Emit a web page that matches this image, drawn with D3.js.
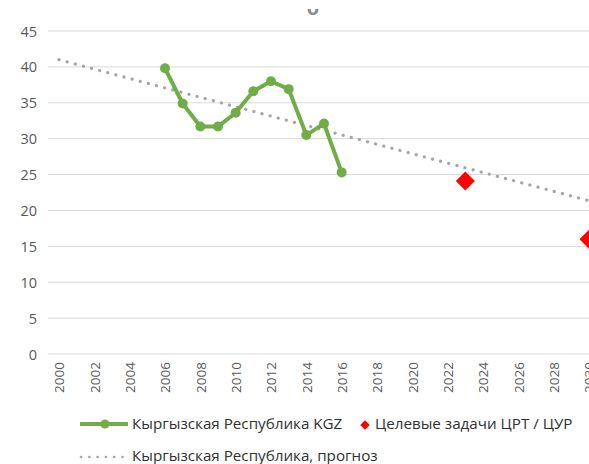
<!DOCTYPE html>
<html><head><meta charset="utf-8">
<script src="https://cdn.jsdelivr.net/npm/d3@7"></script>
<style>body{margin:0;background:#fff;overflow:hidden}svg{display:block}</style>
</head><body>
<svg id="c" width="589" height="464"></svg>
<script>
const years = [2006,2007,2008,2009,2010,2011,2012,2013,2014,2015,2016];
const kgzValues = [39.8,34.9,31.7,31.7,33.6,36.6,38.0,36.9,30.5,32.1,25.3];
const targetYears = [2023,2030];
const targetValues = [24.1,16.0];
const forecastYears = [2000,2031];
const forecastValues = [41.0,20.7];
const xTicks = [2000,2002,2004,2006,2008,2010,2012,2014,2016,2018,2020,2022,2024,2026,2028,2030];
const yTicks = [0,5,10,15,20,25,30,35,40,45];
const legendLabels = ["Кыргызская Республика KGZ","Целевые задачи ЦРТ / ЦУР","Кыргызская Республика, прогноз"];

const svg = d3.select("#c");
const font = "'Open Sans', sans-serif";
const x = d3.scaleLinear().domain([2000,2030]).range([59,589]);
const y = d3.scaleLinear().domain([0,45]).range([354,31]);
const plotLeft = 48, plotRight = 620;

svg.append("defs").append("clipPath").attr("id","tclip")
  .append("rect").attr("x",290).attr("y",9).attr("width",50).attr("height",10);

// gridlines
svg.append("g").selectAll("line").data(yTicks).join("line")
  .attr("x1",plotLeft).attr("x2",plotRight)
  .attr("y1",d=>y(d)).attr("y2",d=>y(d))
  .attr("stroke","#d9d9d9").attr("stroke-width",1);

// y axis labels
const yAxis = d3.axisLeft(y).tickValues(yTicks).tickSize(0).tickPadding(0);
const gy = svg.append("g").attr("transform","translate(37,0)").call(yAxis);
gy.select(".domain").remove();
gy.selectAll("text").attr("font-family",font).attr("font-size",14.5).attr("fill","#595959").attr("dy","0.35em");

// x axis labels
const xAxis = d3.axisBottom(x).tickValues(xTicks).tickSize(0).tickFormat(d3.format("d"));
const gx = svg.append("g").attr("transform","translate(0,362)").call(xAxis);
gx.select(".domain").remove();
gx.selectAll("text").attr("font-family",font).attr("font-size",13.5).attr("fill","#595959")
  .attr("transform","rotate(-90)").attr("text-anchor","end").attr("x",0).attr("y",0).attr("dy","0.35em");

// forecast dotted line
const fData = forecastYears.map((d,i)=>[d,forecastValues[i]]);
svg.append("path").datum(fData)
  .attr("d",d3.line().x(d=>x(d[0])).y(d=>y(d[1])))
  .attr("fill","none").attr("stroke","#a5a5a5").attr("stroke-width",3.2)
  .attr("stroke-linecap","round").attr("stroke-dasharray","0.1 8.3");

// green series
const gData = years.map((d,i)=>[d,kgzValues[i]]);
svg.append("path").datum(gData)
  .attr("d",d3.line().x(d=>x(d[0])).y(d=>y(d[1])))
  .attr("fill","none").attr("stroke","#70ad47").attr("stroke-width",4).attr("stroke-linejoin","round");
svg.append("g").selectAll("circle").data(gData).join("circle")
  .attr("cx",d=>x(d[0])).attr("cy",d=>y(d[1])).attr("r",5).attr("fill","#70ad47");

// targets
const tData = targetYears.map((d,i)=>[d,targetValues[i]]);
svg.append("g").selectAll("path").data(tData).join("path")
  .attr("d",d3.symbol().type(d3.symbolSquare).size(180))
  .attr("transform",d=>`translate(${x(d[0])},${y(d[1])}) rotate(45)`)
  .attr("fill","#ff0000");

// cut-off title fragment
svg.append("text").attr("x",313).attr("y",15).attr("text-anchor","middle").attr("clip-path","url(#tclip)")
  .attr("font-family",font).attr("font-size",20).attr("font-weight","bold").attr("fill","#8c8c8c").text("о");

// legend
const lg = svg.append("g").attr("font-family",font).attr("font-size",15.2).attr("fill","#303030");
lg.append("line").attr("x1",80).attr("x2",128).attr("y1",424).attr("y2",424)
  .attr("stroke","#70ad47").attr("stroke-width",4);
lg.append("circle").attr("cx",105).attr("cy",424).attr("r",4.5).attr("fill","#70ad47");
lg.append("text").attr("x",132).attr("y",424).attr("dy","0.35em").text(legendLabels[0]);
lg.append("path").attr("d",d3.symbol().type(d3.symbolSquare).size(45)).attr("transform","translate(365,425) rotate(45)").attr("fill","#ff0000");
lg.append("text").attr("x",375).attr("y",424).attr("dy","0.35em").text(legendLabels[1]);
lg.append("line").attr("x1",81).attr("x2",127).attr("y1",457).attr("y2",457)
  .attr("stroke","#a5a5a5").attr("stroke-width",2.6).attr("stroke-linecap","round").attr("stroke-dasharray","0.1 8.2");
lg.append("text").attr("x",132).attr("y",456).attr("dy","0.35em").text(legendLabels[2]);
</script>
</body></html>
